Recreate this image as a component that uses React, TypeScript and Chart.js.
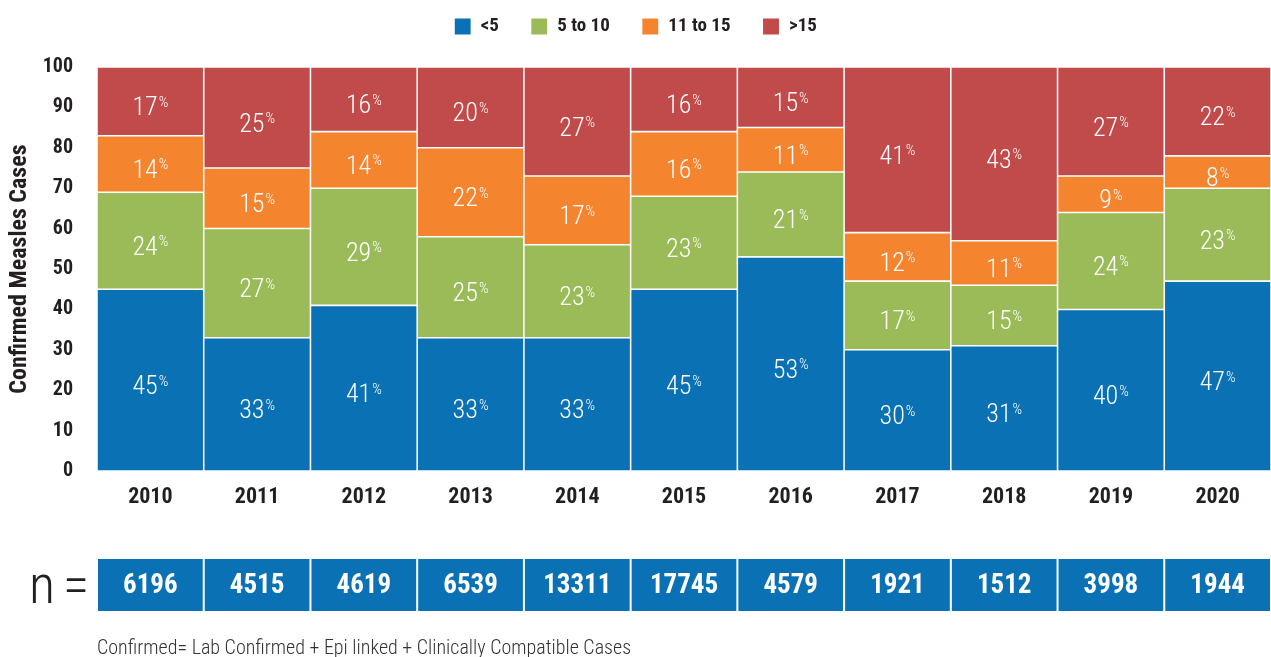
import { useEffect, useRef } from "react";
import { Chart, registerables } from "chart.js";

Chart.register(...registerables);

const years = ["2010", "2011", "2012", "2013", "2014", "2015", "2016", "2017", "2018", "2019", "2020"];
const under5 = [45, 33, 41, 33, 33, 45, 53, 30, 31, 40, 47];
const from5to10 = [24, 27, 29, 25, 23, 23, 21, 17, 15, 24, 23];
const from11to15 = [14, 15, 14, 22, 17, 16, 11, 12, 11, 9, 8];
const over15 = [17, 25, 16, 20, 27, 16, 15, 41, 43, 27, 22];
const nCounts = [6196, 4515, 4619, 6539, 13311, 17745, 4579, 1921, 1512, 3998, 1944];
const seriesNames = ["<5", "5 to 10", "11 to 15", ">15"];
const yTitle = "Confirmed Measles Cases";
const footnote = "Confirmed= Lab Confirmed + Epi linked + Clinically Compatible Cases";

const FONT = '"Roboto Condensed", "Open Sans Condensed", sans-serif';
const DARK = "#231f20";
const COLORS = ["#0b71b5", "#9bbb59", "#f5842f", "#c04b4a"];

const labelPlugin = {
  id: "segLabels",
  afterDatasetsDraw(chart: any) {
    const ctx = chart.ctx;
    ctx.save();
    chart.data.datasets.forEach((ds: any, di: number) => {
      const meta = chart.getDatasetMeta(di);
      meta.data.forEach((bar: any, i: number) => {
        const v = ds.data[i];
        const { x, y, base } = bar.getProps(["x", "y", "base"], true);
        const cy = (y + base) / 2;
        const num = String(v);
        ctx.font = `300 26px ${FONT}`;
        const nw = ctx.measureText(num).width;
        ctx.font = `300 15px ${FONT}`;
        const pw = ctx.measureText("%").width;
        const left = x - (nw + 1 + pw) / 2;
        ctx.fillStyle = "#ffffff";
        ctx.textAlign = "left";
        ctx.textBaseline = "alphabetic";
        ctx.font = `300 26px ${FONT}`;
        ctx.fillText(num, left, cy + 14);
        ctx.font = `300 15px ${FONT}`;
        ctx.fillText("%", left + nw + 1, cy + 5.5);
      });
    });
    ctx.restore();
  },
};

const nRowPlugin = {
  id: "nRow",
  afterDraw(chart: any) {
    const ctx = chart.ctx;
    const xs = chart.scales.x;
    const colW = xs.width / years.length;
    ctx.save();
    nCounts.forEach((n, i) => {
      const cx = xs.getPixelForValue(i);
      const l = cx - colW / 2 + 1;
      ctx.fillStyle = COLORS[0];
      ctx.fillRect(l, 559, colW - 2, 52);
      ctx.fillStyle = "#ffffff";
      ctx.font = `bold 27px ${FONT}`;
      ctx.textAlign = "center";
      ctx.textBaseline = "alphabetic";
      ctx.fillText(String(n), cx, 593);
    });
    ctx.fillStyle = DARK;
    ctx.font = `300 54px ${FONT}`;
    ctx.textAlign = "left";
    ctx.fillText("n", 29, 603);
    ctx.fillText("=", 63, 603);
    ctx.fillStyle = "#333333";
    ctx.font = `300 20px ${FONT}`;
    ctx.fillText(footnote, 97, 654);
    ctx.restore();
  },
};

export default function App() {
  const ref = useRef<HTMLCanvasElement | null>(null);
  useEffect(() => {
    document.body.style.margin = "0";
    const c = ref.current;
    if (!c) return;
    const datasets = [under5, from5to10, from11to15, over15].map((d, i) => ({
      label: seriesNames[i],
      data: d,
      backgroundColor: COLORS[i],
      borderColor: "#ffffff",
      borderWidth: 1.1,
      borderSkipped: false,
      barPercentage: 1,
      categoryPercentage: 1,
    }));
    const chart = new Chart(c, {
      type: "bar",
      data: { labels: years, datasets },
      plugins: [labelPlugin, nRowPlugin],
      options: {
        animation: false,
        responsive: false,
        layout: { padding: { top: -15, bottom: 146, left: 0, right: 0 } },
        plugins: {
          legend: {
            position: "top",
            labels: {
              boxWidth: 17,
              boxHeight: 17,
              padding: 32,
              color: DARK,
              font: { family: FONT, size: 19, weight: "bold" },
            },
          },
          tooltip: { enabled: false },
        },
        scales: {
          x: {
            stacked: true,
            grid: { display: false, drawTicks: false },
            border: { display: false },
            ticks: { color: DARK, font: { family: FONT, size: 22, weight: "bold" }, padding: 13 },
            afterFit: (s: any) => {
              s.height = 40;
            },
          },
          spacer: {
            type: "category",
            labels: years,
            position: "top",
            grid: { display: false, drawTicks: false },
            border: { display: false },
            ticks: { display: false },
            afterFit: (s: any) => {
              s.height = 21;
            },
          },
          y: {
            stacked: true,
            min: 0,
            max: 100,
            grid: { display: false, drawTicks: false },
            border: { display: false },
            ticks: { stepSize: 10, color: DARK, font: { family: FONT, size: 20, weight: "bold" }, padding: 24 },
            title: {
              display: true,
              text: yTitle,
              color: DARK,
              font: { family: FONT, size: 24, weight: "bold" },
              padding: { top: 6, bottom: 0 },
            },
            afterFit: (s: any) => {
              s.width = 97;
            },
          },
        },
      } as any,
    });
    return () => chart.destroy();
  }, []);
  return <canvas ref={ref} width={1271} height={657} style={{ display: "block" }} />;
}
